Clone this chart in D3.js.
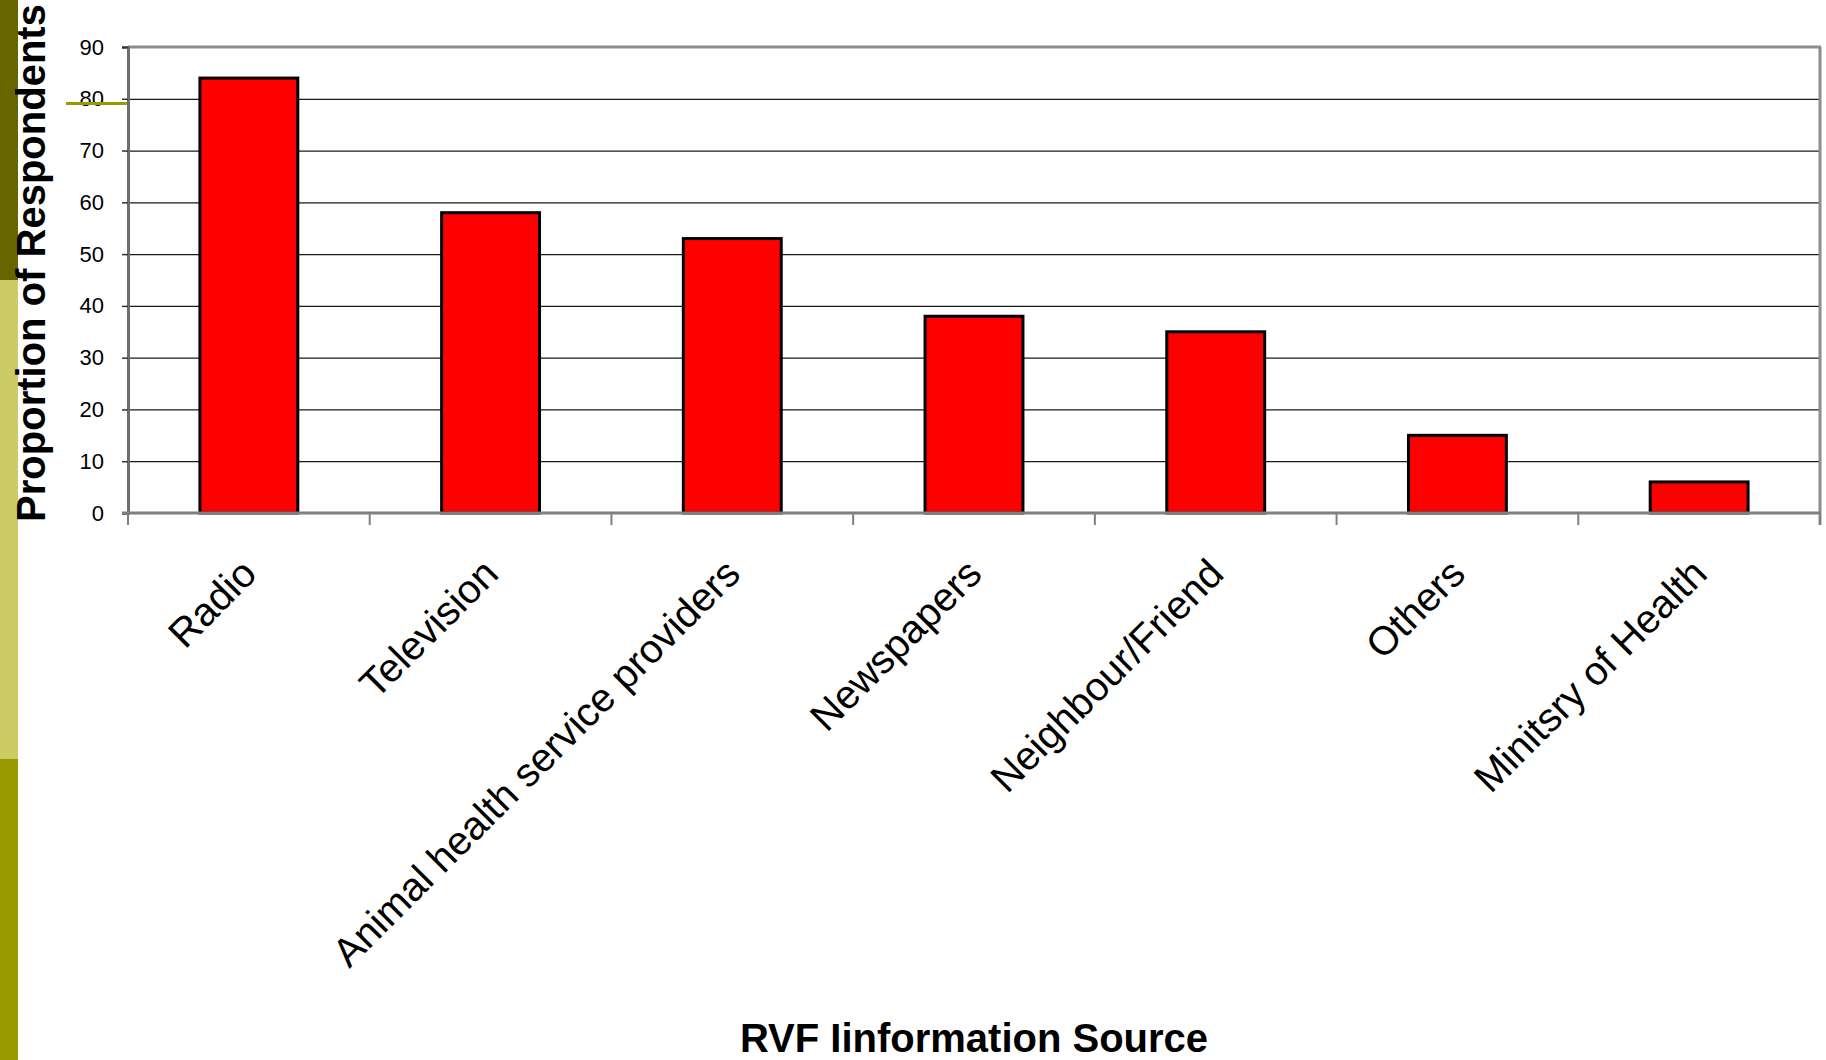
<!DOCTYPE html>
<html>
<head>
<meta charset="utf-8">
<script src="https://cdn.jsdelivr.net/npm/d3@7"></script>
<style>
  html, body { margin: 0; padding: 0; background: #ffffff; }
  svg { display: block; }
  text { font-family: Arial, "Liberation Sans", sans-serif; }
</style>
</head>
<body>
<svg id="chart" width="1826" height="1060"></svg>
<script>
// Sources of Rift Valley Fever information, % of respondents
const categories = [
  "Radio",
  "Television",
  "Animal health service providers",
  "Newspapers",
  "Neighbour/Friend",
  "Others",
  "Minitsry of Health"
];
const values = [84, 58, 53, 38, 35, 15, 6];
const yTicks = [0, 10, 20, 30, 40, 50, 60, 70, 80, 90];
const yTitle = "Proportion of Respondents";
const xTitle = "RVF Iinformation Source";

const svg = d3.select("#chart");
const W = 1826, H = 1060;
const margin = { left: 128, top: 47, right: 6, bottom: 547 };
const plotW = W - margin.left - margin.right;
const plotH = H - margin.top - margin.bottom;

// slide decoration: coloured strip at the left edge and a short accent rule
const strip = [
  { y0: 0, y1: 280, color: "#666600" },
  { y0: 280, y1: 759, color: "#CCCC66" },
  { y0: 759, y1: H, color: "#999900" }
];
svg.selectAll("rect.strip").data(strip).enter().append("rect")
  .attr("class", "strip")
  .attr("x", 0).attr("width", 18)
  .attr("y", d => d.y0).attr("height", d => d.y1 - d.y0)
  .attr("fill", d => d.color);

const g = svg.append("g").attr("transform", `translate(${margin.left},${margin.top})`);

const x = d3.scaleBand().domain(categories).range([0, plotW]).padding(0);
const y = d3.scaleLinear().domain([0, 90]).range([plotH, 0]);

// horizontal gridlines
g.append("g")
  .attr("class", "grid")
  .call(d3.axisLeft(y).tickValues(yTicks.slice(1, -1)).tickSize(-plotW).tickFormat(""))
  .call(s => s.select(".domain").remove())
  .call(s => s.selectAll("line").attr("stroke", "#1a1a1a").attr("stroke-width", 1.3));

// plot frame: top and right edges
g.append("line").attr("x1", 0).attr("x2", plotW + 1).attr("y1", 0).attr("y2", 0)
  .attr("stroke", "#8c8c8c").attr("stroke-width", 3);
g.append("line").attr("x1", plotW).attr("x2", plotW).attr("y1", 0).attr("y2", plotH + 12)
  .attr("stroke", "#8c8c8c").attr("stroke-width", 3);

// bars
const barW = x.bandwidth() * 0.405;
g.selectAll("rect.bar").data(categories).enter().append("rect")
  .attr("class", "bar")
  .attr("x", d => x(d) + x.bandwidth() / 2 - barW / 2)
  .attr("width", barW)
  .attr("y", (d, i) => y(values[i]))
  .attr("height", (d, i) => plotH - y(values[i]))
  .attr("fill", "#FF0000")
  .attr("stroke", "#000000")
  .attr("stroke-width", 3);

// y axis
g.append("g")
  .call(d3.axisLeft(y).tickValues(yTicks).tickSize(6).tickPadding(18))
  .call(s => s.select(".domain").attr("stroke", "#6e6e6e").attr("stroke-width", 3))
  .call(s => s.selectAll(".tick line").attr("stroke", "#333").attr("stroke-width", 1.5))
  .call(s => s.selectAll(".tick text")
    .attr("font-size", 22).attr("fill", "#000")
    .attr("font-family", "Arial, 'Liberation Sans', sans-serif"));

// x axis baseline and category boundary ticks
g.append("line").attr("x1", -6).attr("x2", plotW).attr("y1", plotH).attr("y2", plotH)
  .attr("stroke", "#808080").attr("stroke-width", 3);
const bounds = categories.map(c => x(c)).concat([plotW]);
g.selectAll("line.xtick").data(bounds).enter().append("line")
  .attr("class", "xtick")
  .attr("x1", d => d).attr("x2", d => d)
  .attr("y1", plotH).attr("y2", plotH + 12)
  .attr("stroke", "#808080").attr("stroke-width", 2);

// rotated category labels
const xAxis = g.append("g")
  .attr("transform", `translate(0,${plotH})`)
  .call(d3.axisBottom(x).tickSize(0).tickPadding(0))
  .call(s => s.select(".domain").remove());
xAxis.selectAll(".tick text")
  .attr("font-size", 40)
  .attr("fill", "#000")
  .attr("font-family", "Arial, 'Liberation Sans', sans-serif")
  .attr("text-anchor", "end")
  .attr("dy", null)
  .attr("y", null)
  .attr("transform", "translate(10,63) rotate(-45)");

// axis titles
svg.append("text")
  .attr("transform", "translate(45,263) rotate(-90)")
  .attr("text-anchor", "middle")
  .attr("font-size", 40)
  .attr("font-weight", "bold")
  .attr("fill", "#000")
  .text(yTitle);

svg.append("text")
  .attr("x", 974).attr("y", 1052)
  .attr("text-anchor", "middle")
  .attr("font-size", 40)
  .attr("font-weight", "bold")
  .attr("fill", "#000")
  .text(xTitle);

// accent rule over the axis near the top
svg.append("line")
  .attr("x1", 66).attr("x2", 127).attr("y1", 103.5).attr("y2", 103.5)
  .attr("stroke", "#999900").attr("stroke-width", 3);
</script>
</body>
</html>
